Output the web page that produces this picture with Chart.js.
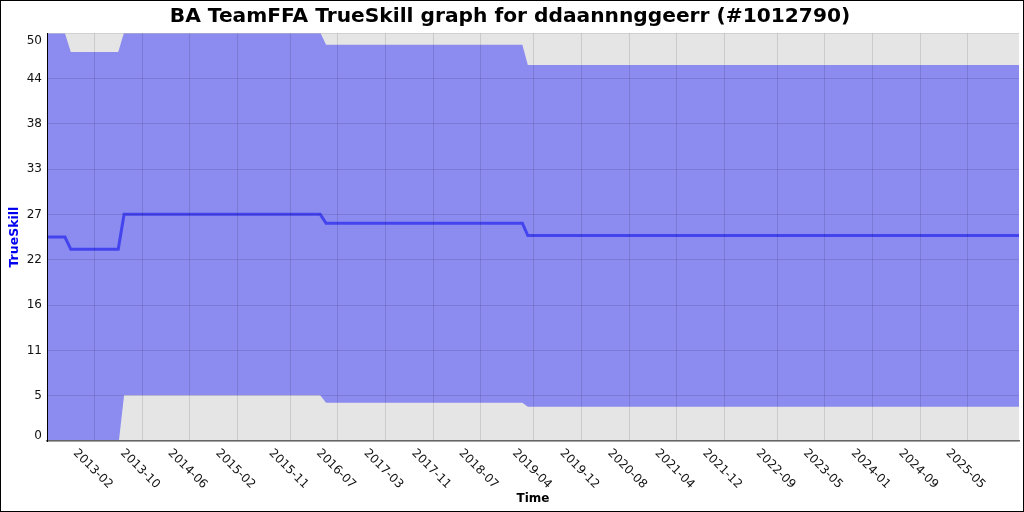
<!DOCTYPE html>
<html>
<head>
<meta charset="utf-8">
<script src="https://cdn.jsdelivr.net/npm/chart.js@4/dist/chart.umd.min.js"></script>
<style>
  html, body { margin:0; padding:0; background:#fff; }
  #wrap { width:1022px; height:510px; border:1px solid #000; }
  canvas { display:block; }
</style>
</head>
<body>
<div id="wrap"><canvas id="c" width="1022" height="510"></canvas></div>
<script>
// ====== DATA ======
const dates  = ['2012-06-01','2012-09-01','2012-10-01','2013-06-01','2013-07-01','2016-04-01','2016-05-01','2019-02-01','2019-03-01','2026-01-20'];
const mu     = [25.0, 25.0, 23.5, 23.5, 27.8, 27.8, 26.7, 26.7, 25.2, 25.2];
const upper  = [50.0, 50.0, 47.7, 47.7, 50.1, 50.1, 48.6, 48.6, 46.1, 46.1];
const lower  = [0.0, 0.0, -0.7, -0.7, 5.6, 5.6, 4.7, 4.7, 4.2, 4.2];

const xTickLabels = ['2013-02','2013-10','2014-06','2015-02','2015-11','2016-07','2017-03','2017-11','2018-07','2019-04',
                     '2019-12','2020-08','2021-04','2021-12','2022-09','2023-05','2024-01','2024-09','2025-05'];
const yTickValues = [0, 5.56, 11.11, 16.67, 22.22, 27.78, 33.33, 38.89, 44.44, 50];
const yTickLabels = ['0','5','11','16','22','27','33','38','44','50'];

// ====== HELPERS ======
const ts = (s) => { const p = s.split('-').map(Number); return Date.UTC(p[0], p[1]-1, p[2] || 1); };
const xTickValues = xTickLabels.map(ts);
const pts = (arr) => arr.map((v, i) => ({ x: ts(dates[i]), y: v }));
const FONT = '"DejaVu Sans", Verdana, sans-serif';

// grey plot background + hand drawn tick labels / axis titles
const decor = {
  id: 'decor',
  beforeDraw(chart){
    const { ctx, chartArea:a } = chart;
    ctx.save();
    ctx.fillStyle = '#e5e5e5';
    ctx.fillRect(a.left, a.top, a.right - a.left, a.bottom - a.top);
    ctx.restore();
  },
  afterDraw(chart){
    const { ctx, chartArea:a, scales } = chart;
    ctx.save();
    ctx.fillStyle = '#111';
    // x tick labels, rotated clockwise
    ctx.font = '12px ' + FONT;
    ctx.textAlign = 'center'; ctx.textBaseline = 'middle';
    xTickValues.forEach((v, i) => {
      const px = scales.x.getPixelForValue(v);
      ctx.save();
      ctx.translate(px - 2, a.bottom + 28);
      ctx.rotate(Math.PI / 4);
      ctx.fillText(xTickLabels[i], 0, 0);
      ctx.restore();
    });
    // y tick labels, kept inside the plot height
    ctx.font = '12px ' + FONT;
    ctx.textAlign = 'right';
    yTickValues.forEach((v, i) => {
      let py = scales.y.getPixelForValue(v);
      py = Math.max(a.top + 8, Math.min(a.bottom - 5, py));
      ctx.fillText(yTickLabels[i], a.left - 5, py);
    });
    // axis titles
    ctx.fillStyle = '#000';
    ctx.font = 'bold 12px ' + FONT;
    ctx.textAlign = 'center';
    ctx.fillText('Time', (a.left + a.right) / 2, 498);
    ctx.save();
    ctx.translate(14, (a.top + a.bottom) / 2);
    ctx.rotate(-Math.PI / 2);
    ctx.fillStyle = '#0000ee';
    ctx.font = 'bold 12.5px ' + FONT;
    ctx.fillText('TrueSkill', 0, 0);
    ctx.restore();
    ctx.restore();
  }
};

new Chart(document.getElementById('c'), {
  type: 'line',
  data: {
    datasets: [
      { label: 'mu', data: pts(mu), borderColor: 'rgb(68,68,238)', borderWidth: 3, pointRadius: 0, fill: false, tension: 0 },
      { label: 'upper', data: pts(upper), borderWidth: 0, pointRadius: 0, backgroundColor: '#8b8bf0', fill: '+1', tension: 0 },
      { label: 'lower', data: pts(lower), borderWidth: 0, pointRadius: 0, fill: false, tension: 0 }
    ]
  },
  options: {
    responsive: false,
    animation: false,
    layout: { padding: { left: 0, right: 4, top: 0, bottom: 0 } },
    plugins: {
      legend: { display: false },
      tooltip: { enabled: false },
      title: {
        display: true,
        text: 'BA TeamFFA TrueSkill graph for ddaannnggeerr (#1012790)',
        color: '#000',
        font: { family: FONT, size: 20.2, weight: 'bold' },
        padding: { top: 4, bottom: 4 }
      }
    },
    scales: {
      x: {
        type: 'linear',
        min: ts(dates[0]), max: ts(dates[dates.length - 1]),
        afterBuildTicks: (s) => { s.ticks = xTickValues.map(v => ({ value: v })); },
        afterFit: (s) => { s.height = 70; },
        ticks: { display: false },
        grid: { color: 'rgba(0,0,0,0.11)', drawTicks: false, z: 1 },
        border: { color: '#666', width: 1.5, z: 2 }
      },
      y: {
        min: 0, max: 50,
        afterBuildTicks: (s) => { s.ticks = yTickValues.map(v => ({ value: v })); },
        afterFit: (s) => { s.width = 46; },
        ticks: { display: false },
        grid: { color: 'rgba(0,0,0,0.11)', drawTicks: false, z: 1 },
        border: { color: '#000', width: 1, z: 2 }
      }
    }
  },
  plugins: [decor]
});
</script>
</body>
</html>
